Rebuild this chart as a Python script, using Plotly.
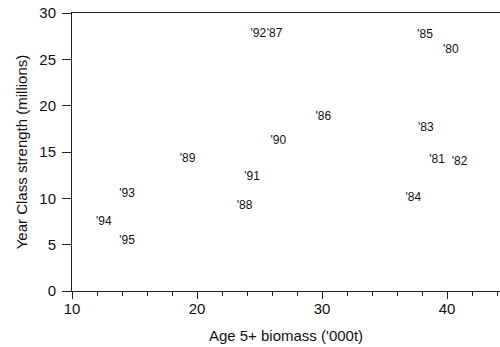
import plotly.graph_objects as go

years = ["'80", "'81", "'82", "'83", "'84", "'85", "'86", "'87", "'88", "'89",
         "'90", "'91", "'92", "'93", "'94", "'95"]
biomass = [40.3, 39.2, 41.0, 38.3, 37.3, 38.25, 30.1, 26.2, 23.8, 19.25,
           26.5, 24.4, 24.9, 14.4, 12.55, 14.4]
year_class = [26.0, 14.1, 13.9, 17.6, 10.0, 27.6, 18.75, 27.75, 9.2, 14.2,
              16.2, 12.3, 27.7, 10.45, 7.4, 5.4]

x_ticks = [10, 20, 30, 40]
y_ticks = [0, 5, 10, 15, 20, 25, 30]

FONT = "Liberation Sans, Arial, sans-serif"

fig = go.Figure(go.Scatter(
    x=biomass, y=year_class, text=years, mode="text",
    textposition="middle center",
    textfont=dict(family=FONT, size=12, color="#111"),
    hoverinfo="x+y+text",
))

fig.update_layout(
    width=500, height=347,
    margin=dict(l=72, r=0, t=13.3, b=56.3),
    paper_bgcolor="white", plot_bgcolor="white",
    font=dict(family=FONT, color="#111"),
    showlegend=False,
    xaxis=dict(
        range=[10, 44.24], tickvals=x_ticks, ticks="outside", ticklen=7,
        tickcolor="#222", showline=True, linecolor="#222", linewidth=1,
        mirror=True, showgrid=False, zeroline=False, automargin=False,
        tickfont=dict(size=15), ticklabelstandoff=-3,
        minor=dict(dtick=2, tick0=10, ticks="outside", ticklen=4, tickcolor="#222", showgrid=False),
        title=dict(text="Age 5+ biomass ('000t)", font=dict(size=15), standoff=14),
    ),
    yaxis=dict(
        range=[0, 30], tickvals=y_ticks, ticks="outside", ticklen=9,
        tickcolor="#222", showline=True, linecolor="#222", linewidth=1,
        showgrid=False, zeroline=False, automargin=False, tickfont=dict(size=15),
        ticklabelstandoff=3,
        title=dict(text="Year Class strength (millions)", font=dict(size=15), standoff=8),
    ),
)

fig.write_html(
    "out.html",
    config={"displayModeBar": False},
    post_script="document.body.style.margin='0';document.body.style.overflow='hidden';",
)
